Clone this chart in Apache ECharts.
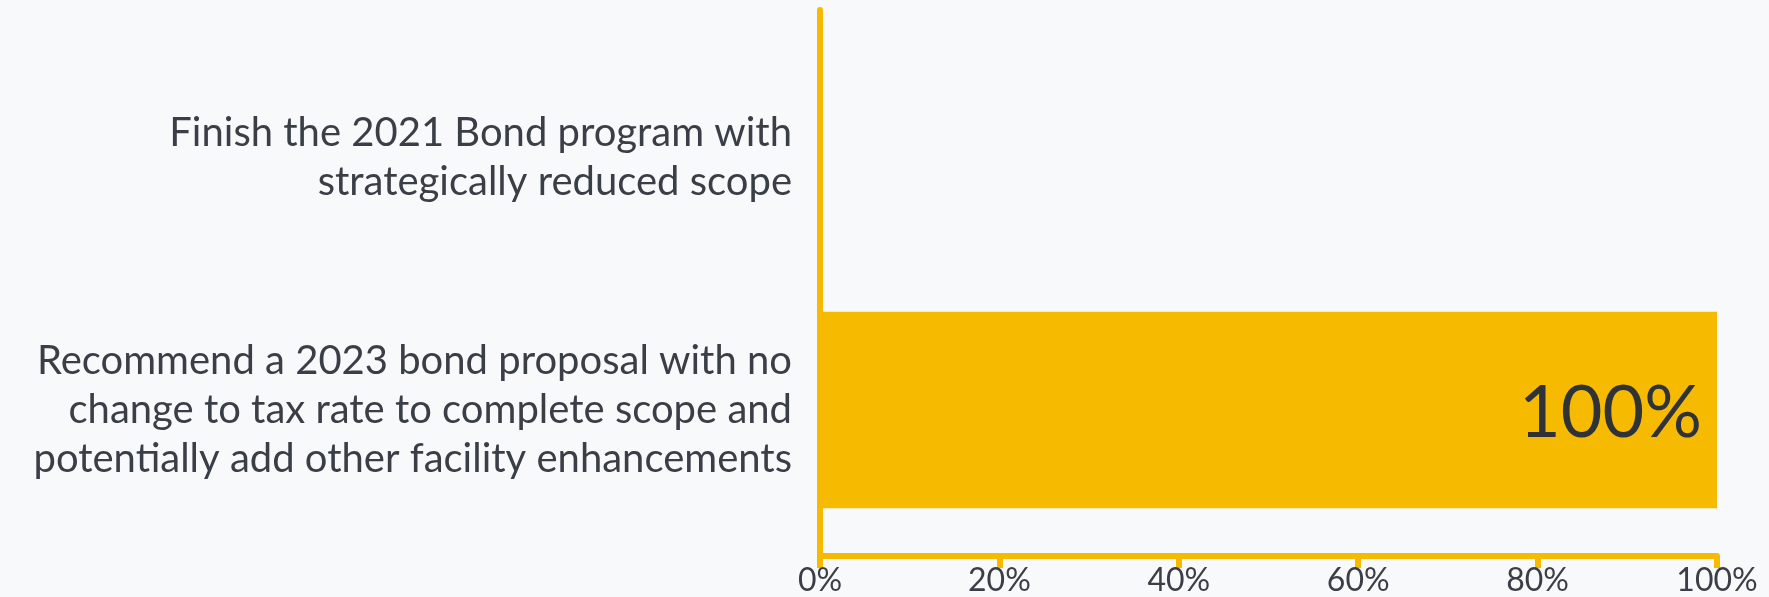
<!DOCTYPE html>
<html>
<head>
<meta charset="utf-8">
<script src="https://cdn.jsdelivr.net/npm/echarts@6/dist/echarts.min.js"></script>
<style>
html,body{margin:0;padding:0;background:#f8f9fb;}
#c{width:1769px;height:597px;}
</style>
</head>
<body>
<div id="c"></div>
<script>
const categories = [
  "Finish the 2021 Bond program with\nstrategically reduced scope",
  "Recommend a 2023 bond proposal with no\nchange to tax rate to complete scope and\npotentially add other facility enhancements"
];
const values = [0, 100];
const xTicks = [0, 20, 40, 60, 80, 100];

const gold = '#f6bb00';
const chart = echarts.init(document.getElementById('c'));
chart.setOption({
  backgroundColor: '#f8f9fb',
  animation: false,
  grid: [
    {left: 820, right: 52, top: 32, bottom: 61},
    {left: 820, right: 52, top: 10, bottom: 40}
  ],
  xAxis: [
    {gridIndex: 0, type: 'value', min: 0, max: 100, show: false},
    {gridIndex: 1, type: 'value', min: xTicks[0], max: xTicks[xTicks.length-1], interval: 20,
     axisLine: {show: true, lineStyle: {color: gold, width: 6}},
     axisTick: {show: true, length: 12, lineStyle: {color: gold, width: 6}},
     splitLine: {show: false},
     axisLabel: {color: '#3a3f47', fontSize: 32, fontFamily: 'Lato', margin: 9,
       formatter: v => v + '%'}}
  ],
  yAxis: [
    {gridIndex: 0, type: 'category', data: categories, inverse: true,
     axisLine: {show: false}, axisTick: {show: false},
     axisLabel: {color: '#3a3f47', fontSize: 40, lineHeight: 49, fontFamily: 'Lato', margin: 28, align: 'right'}},
    {gridIndex: 1, type: 'value', min: 0, max: 1, show: true,
     axisLine: {show: true, lineStyle: {color: gold, width: 6}},
     axisTick: {show: false}, axisLabel: {show: false}, splitLine: {show: false}}
  ],
  series: [{
    type: 'bar', xAxisIndex: 0, yAxisIndex: 0,
    data: values, barWidth: '78%',
    itemStyle: {color: gold},
    label: {show: true, position: 'insideRight', offset: [-10, 4], color: '#2f3338', fontSize: 72, fontFamily: 'Lato',
      formatter: p => p.value > 0 ? p.value + '%' : ''}
  }]
});
</script>
</body>
</html>
